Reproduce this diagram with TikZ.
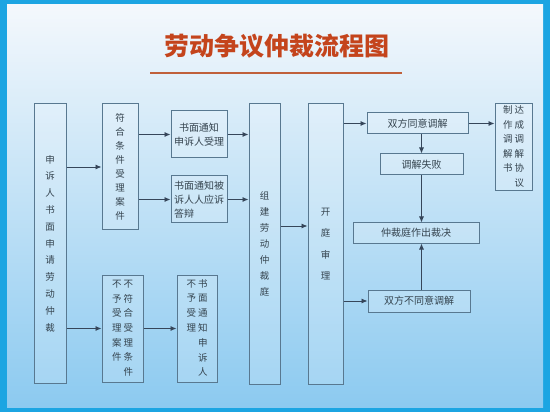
\documentclass[tikz,border=0pt]{standalone}
\usepackage{fontspec}
\newfontfamily\cjk{Noto Sans CJK SC}
\usetikzlibrary{arrows.meta}
\definecolor{framecyan}{HTML}{1CA5E2}
\definecolor{paneltop}{HTML}{F4F8FC}
\definecolor{panelmid}{HTML}{C8E3F5}
\definecolor{panelbot}{HTML}{8CCAF0}
\definecolor{titlered}{HTML}{C4441C}
\definecolor{titleline}{HTML}{C0603A}
\definecolor{boxline}{HTML}{587890}
\definecolor{arrline}{HTML}{36465A}
\definecolor{ink}{HTML}{35444F}
\newcommand\vcol[1]{\begin{tabular}[t]{@{}c@{}}#1\end{tabular}}
\tikzset{
  panel/.style={top color=paneltop, middle color=panelmid, bottom color=panelbot},
  box/.style={draw=boxline, line width=1pt, fill=white, fill opacity=0.18,
    text opacity=1, text=ink, inner sep=0pt, align=center,
    font=\cjk\fontsize{10}{14}\selectfont},
  arr/.style={draw=arrline, line width=0.8pt, -{Latex[length=6pt,width=5pt]}},
  titl/.style={text=titlered, font=\cjk\bfseries\fontsize{25}{25}\selectfont}
}

\begin{document}
\begin{tikzpicture}[x=1pt,y=-1pt]
  \useasboundingbox (0,0) rectangle (550,412);
  \fill[framecyan] (0,0) rectangle (550,412);
  \shade[panel] (7,5) rectangle (543,407);

  % title
  \node[titl] (title) at (277,46) {劳动争议仲裁流程图};
  \coordinate (ulL) at (150,73);
  \coordinate (ulR) at (402,73);
  \draw[titleline, line width=2pt] (ulL) -- (ulR);

  % columns
  \node[box, minimum width=32pt, minimum height=279pt,
    font=\cjk\fontsize{9.5}{16.8}\selectfont] (apply) at (50,243.5)
    {申\\诉\\人\\书\\面\\申\\请\\劳\\动\\仲\\裁};
  \node[box, minimum width=36pt, minimum height=126pt,
    font=\cjk\fontsize{9.5}{13.9}\selectfont] (accept) at (120,167)
    {符\\合\\条\\件\\受\\理\\案\\件};
  \node[box, minimum width=56pt, minimum height=47pt] (notifyA) at (199,134.5)
    {书面通知\\申诉人受理};
  \node[box, minimum width=56pt, minimum height=47pt, align=left] (notifyB) at (199,199.5)
    {书面通知被\\诉人人应诉\\答辩};
  \node[box, minimum width=41pt, minimum height=107pt,
    font=\cjk\fontsize{9.5}{14.6}\selectfont] (reject) at (122.5,328.5)
    {\vcol{不\\予\\受\\理\\案\\件}\hspace{2pt}\vcol{不\\符\\合\\受\\理\\条\\件}};
  \node[box, minimum width=40pt, minimum height=107pt,
    font=\cjk\fontsize{9.5}{14.8}\selectfont] (notifyR) at (197,328.5)
    {\vcol{不\\予\\受\\理}\hspace{2pt}\vcol{书\\面\\通\\知\\申\\诉\\人}};
  \node[box, minimum width=31pt, minimum height=280pt,
    font=\cjk\fontsize{9.5}{16}\selectfont] (court) at (264.5,244)
    {组\\建\\劳\\动\\仲\\裁\\庭};
  \node[box, minimum width=35pt, minimum height=280pt,
    font=\cjk\fontsize{9.5}{21.3}\selectfont] (trial) at (325.5,244)
    {开\\庭\\审\\理};

  % mediation
  \node[box, minimum width=101pt, minimum height=21pt] (agree) at (417.5,123.5) {双方同意调解};
  \node[box, minimum width=37pt, minimum height=86pt,
    font=\cjk\fontsize{9.5}{14.6}\selectfont] (deal) at (513.5,147)
    {\vcol{制\\作\\调\\解\\书}\hspace{2pt}\vcol{达\\成\\调\\解\\协\\议}};
  \node[box, minimum width=83pt, minimum height=21pt] (fail) at (421.5,164.5) {调解失败};
  \node[box, minimum width=126pt, minimum height=20pt] (award) at (416,233) {仲裁庭作出裁决};
  \node[box, minimum width=102pt, minimum height=22pt] (refuse) at (419,301) {双方不同意调解};

  % arrows
  \draw[arr] (apply.east |- accept.west) -- (accept.west);
  \draw[arr] (apply.east |- reject.west) -- (reject.west);
  \draw[arr] (accept.east |- notifyA.west) -- (notifyA.west);
  \draw[arr] (accept.east |- notifyB.west) -- (notifyB.west);
  \draw[arr] (reject.east) -- (reject.east -| notifyR.west);
  \draw[arr] (notifyA.east) -- (notifyA.east -| court.west);
  \draw[arr] (notifyB.east) -- (notifyB.east -| court.west);
  \draw[arr] ([yshift=18pt]court.east) -- ([yshift=18pt]court.east -| trial.west);
  \draw[arr] (trial.east |- agree.west) -- (agree.west);
  \draw[arr] (trial.east |- refuse.west) -- (refuse.west);
  \draw[arr] (agree.east) -- (agree.east -| deal.west);
  \draw[arr] (agree.south -| fail.north) -- (fail.north);
  \draw[arr] (fail.south) -- (fail.south |- award.north);
  \draw[arr] (refuse.north -| fail.south) -- (fail.south |- award.south);
\end{tikzpicture}
\end{document}
